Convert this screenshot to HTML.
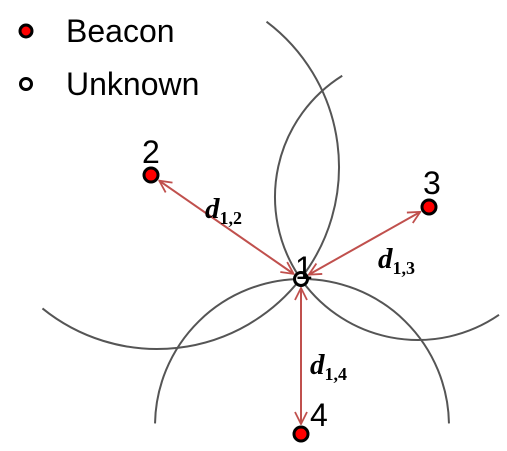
<!DOCTYPE html>
<html><head><meta charset="utf-8"><style>
html,body{margin:0;padding:0;background:#fff;width:507px;height:451px;overflow:hidden}
svg{display:block}
.sans{font-family:"Liberation Sans",sans-serif}
.ser{font-family:"Liberation Serif",serif;font-weight:bold;font-style:italic}
</style></head><body>
<svg id="c" width="507" height="451" viewBox="0 0 507 451">
<defs>
<marker id="ah" viewBox="0 0 14 14" refX="13" refY="7" markerWidth="14" markerHeight="14" markerUnits="userSpaceOnUse" orient="auto-start-reverse">
<path d="M1,1 L13,7 L1,13" fill="none" stroke="#c0504d" stroke-width="1.8"/>
</marker>
</defs>
<g>
<circle cx="26" cy="31" r="6" fill="#f00" stroke="#000" stroke-width="3"/>
<text x="66" y="42" class="sans" font-size="32">Beacon</text>
<circle cx="26" cy="84" r="5.5" fill="#fff" stroke="#000" stroke-width="3"/>
<text x="66" y="95" class="sans" font-size="32">Unknown</text>
</g>
<g id="arcs"></g>
<g id="arrows"></g>
<g id="nodes"></g>
</svg>
<script>
const unknown=[301,279];
const beaconIds=["2","3","4"];
const beaconX=[151,429,301];
const beaconY=[175,207,434];
const circleCX=[157,418,302];
const circleCY=[167,197,426];
const circleR=[182,143,147];
const arcStart=[129,238,181];
const arcEnd=[-53,55.5,359];
const distLabels=["1,2","1,3","1,4"];
const NS="http://www.w3.org/2000/svg";
function mk(t,a,p){const e=document.createElementNS(NS,t);for(const k in a)e.setAttribute(k,a[k]);p.appendChild(e);return e;}
const arcs=document.getElementById('arcs'),arrows=document.getElementById('arrows'),nodes=document.getElementById('nodes');
const labelPos=[[205,218],[378,268],[310,374]];
const numPos=[[142,163],[423,194],[310,426]];
for(let i=0;i<beaconX.length;i++){
  const cx=beaconX[i],cy=beaconY[i];
  const ccx=circleCX[i],ccy=circleCY[i],r=circleR[i];
  const a0=arcStart[i]*Math.PI/180,a1=arcEnd[i]*Math.PI/180;
  const x0=ccx+r*Math.cos(a0),y0=ccy+r*Math.sin(a0),x1=ccx+r*Math.cos(a1),y1=ccy+r*Math.sin(a1);
  const sweep=arcEnd[i]>arcStart[i]?1:0;
  const large=Math.abs(arcEnd[i]-arcStart[i])>180?1:0;
  const p=mk('path',{d:`M${x0},${y0} A${r},${r} 0 ${large} ${sweep} ${x1},${y1}`,fill:'none',stroke:'#555','stroke-width':2},arcs);
  
  
  const dx=cx-unknown[0],dy=cy-unknown[1],L=Math.hypot(dx,dy),ux=dx/L,uy=dy/L;
  const ln=mk('line',{x1:unknown[0]+ux*9,y1:unknown[1]+uy*9,x2:cx-ux*10,y2:cy-uy*10,stroke:'#c0504d','stroke-width':2,'marker-start':'url(#ah)','marker-end':'url(#ah)'},arrows);
  
  
  const t=mk('text',{x:labelPos[i][0],y:labelPos[i][1],class:'ser','font-size':29},arrows);
  
  
  t.textContent='d';
  const s=mk('tspan',{'font-size':18,dy:6,'font-style':'normal'},t);s.textContent=distLabels[i];
  const b=mk('circle',{cx:cx,cy:cy,r:7,fill:'#f00',stroke:'#000','stroke-width':3},nodes);
  
  
  const n=mk('text',{x:numPos[i][0],y:numPos[i][1],class:'sans','font-size':32},nodes);
  
  
  n.textContent=beaconIds[i];
}
const u=mk('circle',{cx:unknown[0],cy:unknown[1],r:6.5,fill:'#fff',stroke:'#000','stroke-width':3},nodes);


const ut=mk('text',{x:295,y:279,class:'sans','font-size':32},nodes);


ut.textContent='1';
</script>
</body></html>
